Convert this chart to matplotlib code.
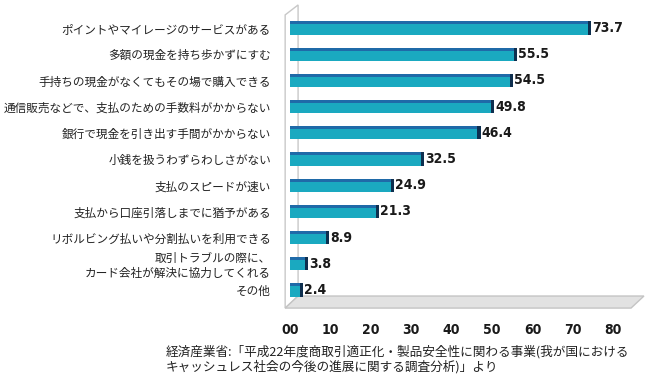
import matplotlib
matplotlib.use("Agg")
import matplotlib.pyplot as plt
from matplotlib.patches import Polygon
from matplotlib import font_manager

plt.rcParams['font.family'] = ['Noto Sans CJK JP', 'DejaVu Sans']

###############################################################
# data
###############################################################
labels = [
    "ポイントやマイレージのサービスがある",
    "多額の現金を持ち歩かずにすむ",
    "手持ちの現金がなくてもその場で購入できる",
    "通信販売などで、支払のための手数料がかからない",
    "銀行で現金を引き出す手間がかからない",
    "小銭を扱うわずらわしさがない",
    "支払のスピードが速い",
    "支払から口座引落しまでに猶予がある",
    "リボルビング払いや分割払いを利用できる",
    "取引トラブルの際に、\nカード会社が解決に協力してくれる",
    "その他",
]
values = [73.7, 55.5, 54.5, 49.8, 46.4, 32.5, 24.9, 21.3, 8.9, 3.8, 2.4]
xticks = [0, 10, 20, 30, 40, 50, 60, 70, 80]
xtick_labels = ["00", "10", "20", "30", "40", "50", "60", "70", "80"]
source = ("経済産業省:「平成22年度商取引適正化・製品安全性に関わる事業(我が国における\n"
          "キャッシュレス社会の今後の進展に関する調査分析)」より")

# condensed bold face for the numbers
num_fp = font_manager.FontProperties(family="DejaVu Sans", stretch="condensed",
                                     weight="bold", size=10)

###############################################################
# plot
###############################################################
W, H = 650, 389
fig = plt.figure(figsize=(W / 100, H / 100), dpi=100)
ax = fig.add_axes([280 / W, 1 - 312 / H, 368 / W, 312 / H])

ax.set_xlim(-2.475, 88.6)
ax.set_ylim(10.84, -1.069)
for s in ax.spines.values():
    s.set_visible(False)

# 3D-ish wall and floor
wall = Polygon([(-1.2, 10.69), (-1.2, -0.5), (2.0, -0.88), (2.0, 10.23)],
               closed=True, facecolor="white", edgecolor="#c8c8c8", lw=1.0, zorder=1)
ax.add_patch(wall)
floor = Polygon([(-1.2, 10.69), (84.4, 10.69), (87.6, 10.23), (2.0, 10.23)],
                closed=True, facecolor="#e2e2e2", edgecolor="#c4c4c4", lw=1.0, zorder=1)
ax.add_patch(floor)

y = list(range(len(values)))
bh = 0.5
ax.barh(y, values, height=bh, color="#1aa9c0", zorder=3)
# darker top face
ax.barh([i - bh / 2 + 0.055 for i in y], values, height=0.11, color="#1f6aa8", zorder=4)
# dark end cap
ax.barh(y, [0.75] * len(values), left=values, height=bh, color="#0e2f4f", zorder=4)

for i, v in zip(y, values):
    ax.text(v + 1.0, i, f"{v}", va="center", ha="left", fontproperties=num_fp,
            color="#1a1a1a", zorder=5)

ax.set_yticks(y)
ax.set_yticklabels(labels, fontsize=8.4, color="#222222", linespacing=1.15)
ax.set_xticks(xticks)
ax.set_xticklabels(xtick_labels, fontproperties=num_fp, color="#1a1a1a")
ax.tick_params(axis="y", length=0, pad=6.5)
ax.tick_params(axis="x", length=0, pad=8)

fig.text(166 / W, 1 - 345 / H, source, ha="left", va="top", fontsize=9.1,
         color="#222222", linespacing=1.15)

fig.savefig("out.png", dpi=100)
